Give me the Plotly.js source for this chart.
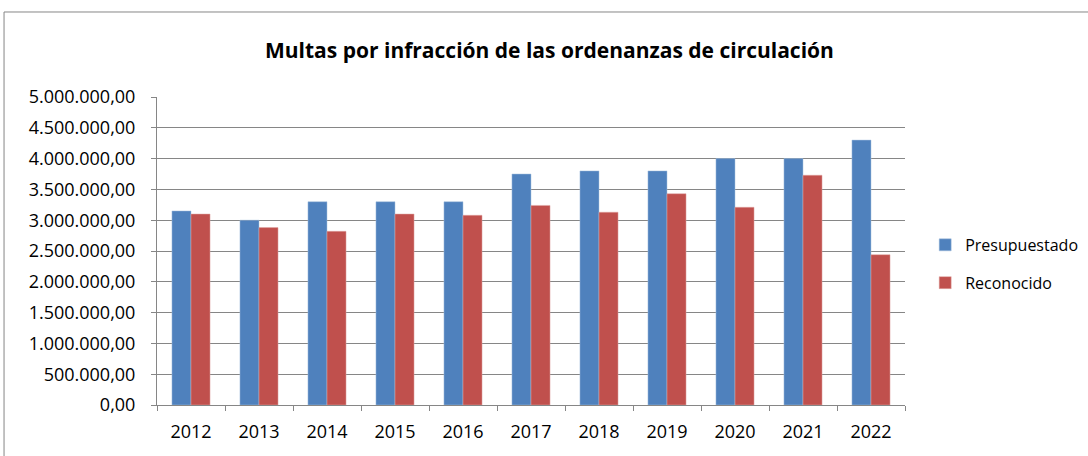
<!DOCTYPE html>
<html><head><meta charset="utf-8">
<script src="https://cdn.plot.ly/plotly-3.0.1.min.js"></script>
<style>html,body{margin:0;padding:0;background:#fff}#c{width:1088px;height:456px}</style>
</head><body><div id="c"></div>
<script>
const years = ['2012','2013','2014','2015','2016','2017','2018','2019','2020','2021','2022'];
const presupuestado = [3150000,3000000,3300000,3300000,3300000,3750000,3800000,3800000,4000000,4000000,4300000];
const reconocido = [3100000,2880000,2820000,3100000,3080000,3240000,3130000,3430000,3210000,3730000,2440000];
const seriesNames = ['Presupuestado','Reconocido'];
const tickVals = [0,500000,1000000,1500000,2000000,2500000,3000000,3500000,4000000,4500000,5000000];

const font = "'Open Sans', sans-serif";
const data = [
  {type:'bar', name:seriesNames[0], x:years, y:presupuestado, marker:{color:'#4f81bd', line:{color:'#a7c0de', width:0.5}}, legendgroup:'a'},
  {type:'bar', name:seriesNames[1], x:years, y:reconocido, marker:{color:'#c0504d', line:{color:'#e0a8a6', width:0.5}}, legendgroup:'b'}
];
const layout = {
  width:1088, height:456,
  margin:{l:157, r:183, t:97, b:51, autoexpand:false},
  paper_bgcolor:'#fff', plot_bgcolor:'#fff',
  separators:',.',
  font:{family:font, size:17, color:'#000'},
  title:{text:'<b>Multas por infracción de las ordenanzas de circulación</b>', x:0.505, xanchor:'center', y:0.89, yanchor:'middle', font:{size:21, family:font, color:'#000'}},
  barmode:'group', bargap:0.44, bargroupgap:0,
  xaxis:{type:'category', showline:true, linecolor:'#868686', linewidth:1, ticks:'outside', tickson:'boundaries', ticklen:5, tickcolor:'#868686', showgrid:false, tickfont:{size:18}, ticklabelstandoff:10},
  yaxis:{range:[0,5000000], tickvals:tickVals, tickformat:',.2f', showline:true, linecolor:'#868686', linewidth:1, ticks:'outside', ticklen:5, tickcolor:'#868686', showgrid:true, gridcolor:'#868686', gridwidth:1, tickfont:{size:18}, zeroline:false, ticklabelstandoff:12},
  showlegend:true,
  legend:{x:1.027, y:0.458, xanchor:'left', yanchor:'middle', traceorder:'grouped', tracegroupgap:14, font:{size:16}},
  shapes:[{type:'rect', xref:'paper', yref:'paper', x0:-0.2045, x1:1.5, y0:-0.5, y1:1.276, line:{color:'#868686', width:1}, fillcolor:'rgba(0,0,0,0)', layer:'below'}]
};
Plotly.newPlot('c', data, layout, {displayModeBar:false, staticPlot:true});
</script></body></html>
